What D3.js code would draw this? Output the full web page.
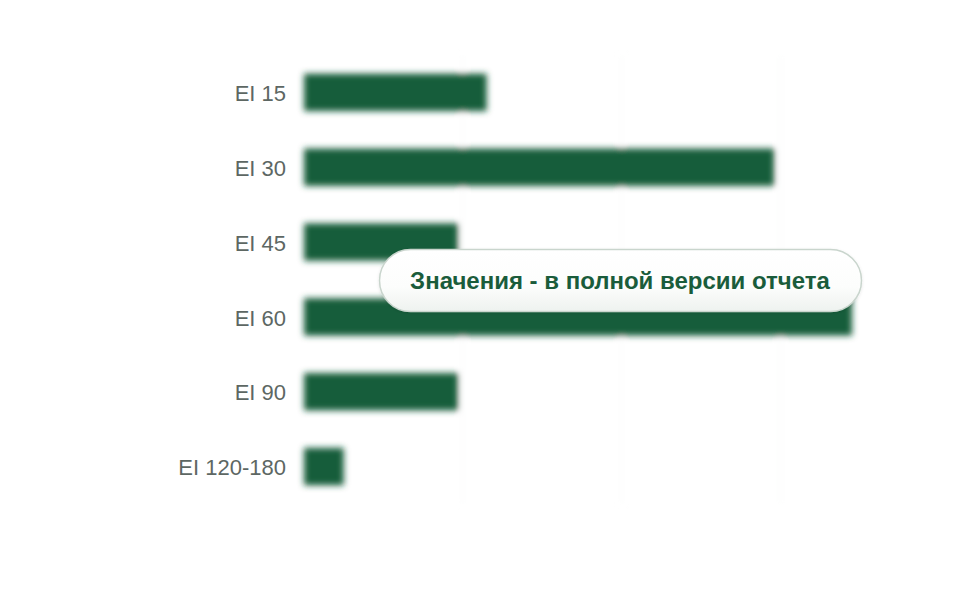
<!DOCTYPE html>
<html>
<head>
<meta charset="utf-8">
<script src="https://cdn.jsdelivr.net/npm/d3@7"></script>
<style>
  html, body { margin: 0; padding: 0; background: #fff; }
  svg { display: block; font-family: "Liberation Sans", Arial, sans-serif; }
</style>
</head>
<body>
<div id="chart"></div>
<script>
// categories and values (blurred in the original)
var categories = ['EI 15', 'EI 30', 'EI 45', 'EI 60', 'EI 90', 'EI 120-180'];
var values = [11.5, 29.6, 9.7, 34.5, 9.7, 2.5];
var gridTicks = [10, 20, 30];
var noticeText = 'Значения - в полной версии отчета';

var w = 960, h = 600
  , barColor = '#175d3a'
  , labelColor = '#5d6763';

var svg = d3.select('#chart').append('svg')
  .attr('width', w)
  .attr('height', h);

var defs = svg.append('defs');
defs.append('filter')
  .attr('id', 'blur')
  .attr('x', '-10%').attr('y', '-10%')
  .attr('width', '120%').attr('height', '120%')
  .append('feGaussianBlur')
  .attr('stdDeviation', 3);

var grad = defs.append('linearGradient')
  .attr('id', 'pill')
  .attr('x1', 0).attr('y1', 0).attr('x2', 0).attr('y2', 1);
grad.append('stop').attr('offset', '0%').attr('stop-color', '#ffffff');
grad.append('stop').attr('offset', '60%').attr('stop-color', '#fcfdfc');
grad.append('stop').attr('offset', '100%').attr('stop-color', '#eef2ef');

var shadow = defs.append('filter')
  .attr('id', 'shadow')
  .attr('x', '-10%').attr('y', '-30%')
  .attr('width', '120%').attr('height', '160%');
shadow.append('feDropShadow')
  .attr('dx', 0).attr('dy', 1)
  .attr('stdDeviation', 1.5)
  .attr('flood-color', '#000')
  .attr('flood-opacity', 0.1);

var x = d3.scaleLinear()
  .domain([0, 35])
  .range([304, 860]);

var y = d3.scaleBand()
  .domain(categories)
  .range([55, 504])
  .paddingInner(0.5)
  .paddingOuter(0.25);

// blurred plot: barely visible gridlines + bars
var plot = svg.append('g').attr('filter', 'url(#blur)');

plot.selectAll('line.grid')
  .data(gridTicks)
  .enter().append('line')
  .attr('class', 'grid')
  .attr('x1', function (d) { return x(d); })
  .attr('x2', function (d) { return x(d); })
  .attr('y1', y.range()[0])
  .attr('y2', y.range()[1])
  .style('stroke', '#f3f5f4')
  .style('stroke-width', 1);

plot.selectAll('rect.bar')
  .data(values)
  .enter().append('rect')
  .attr('class', 'bar')
  .attr('x', x(0))
  .attr('y', function (d, i) { return y(categories[i]); })
  .attr('width', function (d) { return x(d) - x(0); })
  .attr('height', y.bandwidth())
  .style('fill', barColor);

// category labels
svg.selectAll('text.label')
  .data(categories)
  .enter().append('text')
  .attr('class', 'label')
  .attr('x', 286)
  .attr('y', function (d) { return y(d) + y.bandwidth() / 2 + 1; })
  .attr('dy', '.35em')
  .style('text-anchor', 'end')
  .style('font-size', '22px')
  .style('fill', labelColor)
  .text(function (d) { return d; });

// notice pill over the chart
var pill = svg.append('g');
pill.append('rect')
  .attr('x', 379.5).attr('y', 249.5)
  .attr('width', 482).attr('height', 62)
  .attr('rx', 31).attr('ry', 31)
  .attr('filter', 'url(#shadow)')
  .style('fill', 'url(#pill)')
  .style('stroke', '#c9d5cd')
  .style('stroke-width', 1.5);
pill.append('text')
  .attr('x', 620)
  .attr('y', 281)
  .attr('dy', '.35em')
  .style('text-anchor', 'middle')
  .style('font-size', '24px')
  .style('font-weight', 'bold')
  .style('fill', '#1a5c3b')
  .text(noticeText);
</script>
</body>
</html>
